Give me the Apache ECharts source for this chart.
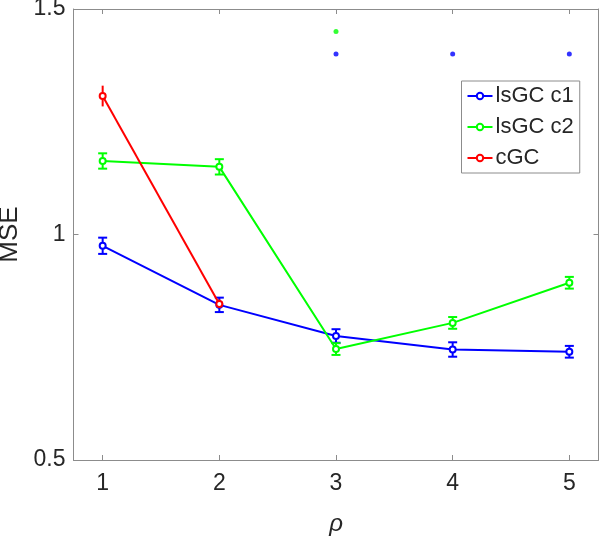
<!DOCTYPE html>
<html>
<head>
<meta charset="utf-8">
<script src="https://cdn.jsdelivr.net/npm/echarts@6/dist/echarts.min.js"></script>
<style>
html,body{margin:0;padding:0;background:#fff;}
#chart{width:600px;height:536px;}
</style>
</head>
<body>
<div id="chart"></div>
<script>
// ---- data ----
const xTicks = [1, 2, 3, 4, 5];
const yTicks = [0.5, 1, 1.5];
const c1X = [1, 2, 3, 4, 5];
const c1Mean = [0.975, 0.844, 0.775, 0.745, 0.740];
const c1Err = [0.018, 0.016, 0.015, 0.016, 0.013];
const c2X = [1, 2, 3, 4, 5];
const c2Mean = [1.163, 1.150, 0.746, 0.804, 0.893];
const c2Err = [0.017, 0.017, 0.013, 0.013, 0.013];
const cgcX = [1, 2];
const cgcMean = [1.307, 0.846];
const cgcErr = [0.023, 0.010];
const sigC1X = [3, 4, 5];
const sigC1Y = [1.40, 1.40, 1.40];
const sigC2X = [3];
const sigC2Y = [1.45];
const seriesNames = ['lsGC c1', 'lsGC c2', 'cGC'];

const BLUE = '#0000ff', GREEN = '#00ff00', RED = '#ff0000';
const AXIS = '#8c8c8c', TXT = '#262626';
const FONT = '"Liberation Sans", Arial, sans-serif';

function pairs(xs, ys) { return xs.map((x, i) => [x, ys[i]]); }

function errSeries(xs, means, errs, color, cap) {
  return {
    type: 'custom', silent: true, z: 3,
    data: xs.map((x, i) => [x, means[i] - errs[i], means[i] + errs[i]]),
    encode: { x: 0, y: [1, 2] },
    renderItem: function (params, api) {
      const lo = api.coord([api.value(0), api.value(1)]);
      const hi = api.coord([api.value(0), api.value(2)]);
      const st = { stroke: color, lineWidth: 2 };
      const ch = [{ type: 'line', shape: { x1: lo[0], y1: lo[1], x2: hi[0], y2: hi[1] }, style: st }];
      if (cap) {
        const w = 4.5;
        ch.push({ type: 'line', shape: { x1: lo[0] - w, y1: lo[1], x2: lo[0] + w, y2: lo[1] }, style: st });
        ch.push({ type: 'line', shape: { x1: hi[0] - w, y1: hi[1], x2: hi[0] + w, y2: hi[1] }, style: st });
      }
      return { type: 'group', children: ch };
    }
  };
}

function lineSeries(name, xs, ys, color) {
  return {
    name: name, type: 'line', z: 4,
    data: pairs(xs, ys),
    symbol: 'emptyCircle', symbolSize: 6, showSymbol: true,
    lineStyle: { color: color, width: 2 },
    itemStyle: { color: color, borderColor: color, borderWidth: 1.5 },
    emphasis: { disabled: true }
  };
}

const chart = echarts.init(document.getElementById('chart'), null, { renderer: 'canvas' });
const option = {
  animation: false,
  backgroundColor: '#fff',
  grid: { left: 73.5, right: 1.5, top: 9, bottom: 76, containLabel: false, outerBoundsMode: 'none' },
  legend: {
    data: seriesNames,
    orient: 'vertical',
    left: 461.5, top: 81,
    padding: [4, 6, 4, 5],
    itemGap: 9,
    itemWidth: 25, itemHeight: 8,
    backgroundColor: '#fff',
    borderColor: '#8c8c8c', borderWidth: 1,
    textStyle: { fontFamily: FONT, fontSize: 22, color: TXT, padding: [0, 0, 0, -2] }
  },
  xAxis: [{
    type: 'value', min: 0.75, max: 5.25,
    name: 'ρ', nameLocation: 'middle', nameGap: 52,
    nameTextStyle: { fontFamily: FONT, fontStyle: 'italic', fontSize: 24, color: TXT },
    axisLine: { show: true, onZero: false, lineStyle: { color: AXIS, width: 1 } },
    axisTick: { show: true, inside: true, length: 5, customValues: xTicks, lineStyle: { color: AXIS } },
    axisLabel: { customValues: xTicks, fontFamily: FONT, fontSize: 23, color: TXT, margin: 12 },
    splitLine: { show: false }
  }, {
    type: 'value', position: 'top', min: 0.75, max: 5.25,
    axisLine: { show: true, onZero: false, lineStyle: { color: AXIS, width: 1 } },
    axisTick: { show: true, inside: true, length: 5, customValues: xTicks, lineStyle: { color: AXIS } },
    axisLabel: { show: false },
    splitLine: { show: false }
  }],
  yAxis: [{
    type: 'value', min: 0.5, max: 1.5, interval: 0.5,
    name: 'MSE', nameLocation: 'middle', nameGap: 45,
    nameTextStyle: { fontFamily: FONT, fontSize: 26, color: TXT },
    axisLine: { show: true, onZero: false, lineStyle: { color: AXIS, width: 1 } },
    axisTick: { show: true, inside: true, length: 5, lineStyle: { color: AXIS } },
    axisLabel: { fontFamily: FONT, fontSize: 23, color: TXT, margin: 8 },
    splitLine: { show: false }
  }, {
    type: 'value', position: 'right', min: 0.5, max: 1.5, interval: 0.5,
    axisLine: { show: true, onZero: false, lineStyle: { color: AXIS, width: 1 } },
    axisTick: { show: true, inside: true, length: 5, lineStyle: { color: AXIS } },
    axisLabel: { show: false },
    splitLine: { show: false }
  }],
  series: [
    lineSeries(seriesNames[0], c1X, c1Mean, BLUE),
    errSeries(c1X, c1Mean, c1Err, BLUE, true),
    lineSeries(seriesNames[1], c2X, c2Mean, GREEN),
    errSeries(c2X, c2Mean, c2Err, GREEN, true),
    lineSeries(seriesNames[2], cgcX, cgcMean, RED),
    errSeries(cgcX, cgcMean, cgcErr, RED, false),
    { type: 'scatter', silent: true, data: pairs(sigC1X, sigC1Y), symbol: 'circle', symbolSize: 5, itemStyle: { color: BLUE } },
    { type: 'scatter', silent: true, data: pairs(sigC2X, sigC2Y), symbol: 'circle', symbolSize: 5, itemStyle: { color: GREEN } }
  ]
};
chart.setOption(option);
</script>
</body>
</html>
